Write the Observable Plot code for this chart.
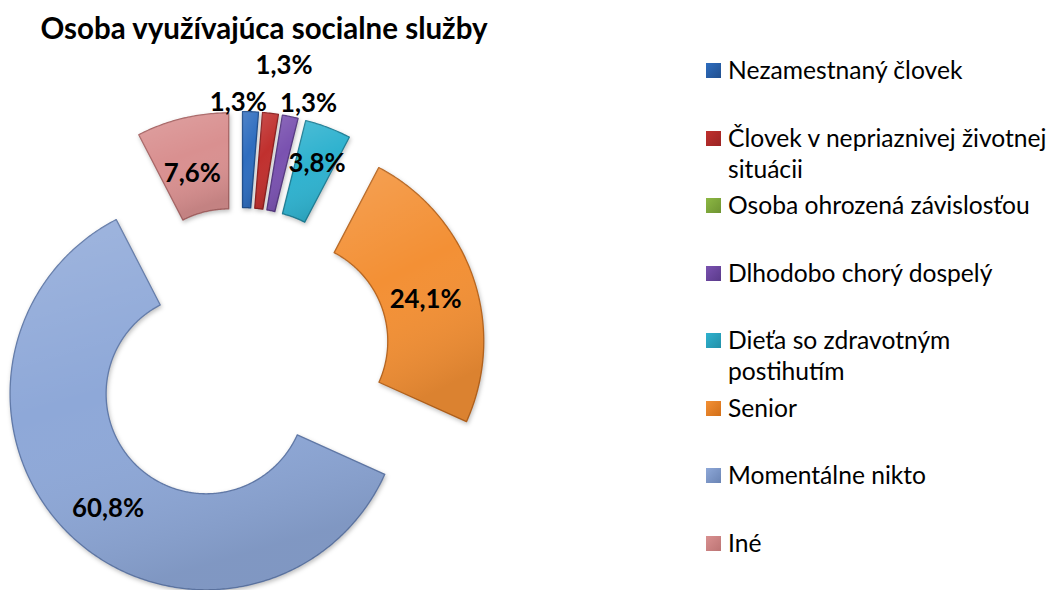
<!DOCTYPE html>
<html><head><meta charset="utf-8">
<script src="https://cdn.jsdelivr.net/npm/d3@7"></script>
<script src="https://cdn.jsdelivr.net/npm/@observablehq/plot@0.6"></script>
<style>
body{margin:0;background:#fff;}
#wrap{position:relative;width:1049px;height:590px;overflow:hidden;font-family:Lato,"Open Sans",sans-serif;color:#000;}
#chart{position:absolute;left:0;top:0;}
#title{position:absolute;left:0;width:528px;text-align:center;font-weight:bold;white-space:nowrap;}
.item{position:absolute;left:706px;}
.sw{position:absolute;left:0;width:15px;height:15px;}
.tx{position:absolute;left:22px;width:322px;}
#chart svg g.slices path{filter:drop-shadow(1px 2px 2px rgba(0,0,0,0.25));}
</style></head><body>
<div id="wrap"><div id="chart"></div><div id="title"></div><div id="legend"></div></div>
<script>
const title = "Osoba využívajúca socialne služby";
const categories = ["Nezamestnaný človek","Človek v nepriaznivej životnej situácii","Osoba ohrozená závislosťou","Dlhodobo chorý dospelý","Dieťa so zdravotným postihutím","Senior","Momentálne nikto","Iné"];
const values = [1.3, 1.3, 0, 1.3, 3.8, 24.1, 60.8, 7.6];
const fills = ["#2E6DBF","#C0302E","#8DB844","#7A52B0","#2FB2CF","#F39035","#8EA8D8","#D99090"];
const strokes = ["#1F4E8C","#8B2020","#5F7F2A","#553880","#1F7F96","#B8651E","#6079A8","#A86565"];
const swatchDark = ["#22508F","#9A2424","#6E9432","#5A3A8A","#2390A8","#D26F18","#6A84B4","#BC7474"];

// layout
const cx = 240, cy = 357, R = 196, r0 = 100, explode = 50;
const labelRadius = [205, 245, 0, 213, 158, 144, 151, 140];
const labelShift = [-3.5, 1.8, 0, 4.1, 1, 2.3, -3, -1.4];

function fit(text, weight, target){
  const c = document.createElement("canvas").getContext("2d");
  c.font = `${weight} 100px Lato`;
  return 100 * target / c.measureText(text).width;
}
const labelSize = fit("24,1%", "bold", 72);
const titleSize = fit(title, "bold", 448);
const legendSize = fit("Osoba ohrozená závislosťou", "normal", 302);

const rows = categories.map((c,i)=>({key:c, value:values[i], i}));
const arcs = d3.pie().sort(null).value(d=>d.value)(rows);
const pts = [];
const labs = [];
arcs.forEach(a=>{
  const i = a.data.i;
  if (a.data.value <= 0) return;
  const mid = (a.startAngle + a.endAngle)/2;
  const ox = cx + explode*Math.sin(mid), oy = cy - explode*Math.cos(mid);
  const n = Math.max(4, Math.ceil((a.endAngle - a.startAngle)/0.01));
  const outer = [], inner = [];
  for (let k=0;k<=n;k++){
    const t = a.startAngle + (a.endAngle - a.startAngle)*k/n;
    outer.push({key:a.data.key, fill:fills[i], stroke:strokes[i], x:ox+R*Math.sin(t), y:oy-R*Math.cos(t)});
    inner.push({key:a.data.key, fill:fills[i], stroke:strokes[i], x:ox+r0*Math.sin(t), y:oy-r0*Math.cos(t)});
  }
  pts.push(...outer, ...inner.reverse());
  const la = mid + labelShift[i]*Math.PI/180;
  labs.push({x: ox + labelRadius[i]*Math.sin(la), y: oy - labelRadius[i]*Math.cos(la),
    text: d3.format(".1f")(a.data.value).replace(".", ",") + "%"});
});

const plot = Plot.plot({
  width: 1049, height: 590, margin: 0,
  x: {domain:[0,1049], range:[0,1049], axis:null},
  y: {domain:[0,590], range:[0,590], axis:null},
  color: {type:"identity"},
  style: {fontFamily:"Lato", background:"transparent"},
  marks: [
    Plot.line(pts, {x:"x", y:"y", z:"key", fill:"fill", stroke:"stroke", strokeWidth:1.3, curve:"linear-closed", className:"slices"}),
    Plot.line(pts, {x:"x", y:"y", z:"key", fill:"url(#shade)", stroke:"none", curve:"linear-closed"}),
    Plot.text(labs, {x:"x", y:"y", text:"text", fontSize: labelSize, fontWeight:"bold", fill:"#000", fontFamily:"Lato"})
  ]
});
const ns = "http://www.w3.org/2000/svg";
const defs = document.createElementNS(ns, "defs");
defs.innerHTML = `<linearGradient id="shade" x1="0" y1="0" x2="0.3" y2="1">
  <stop offset="0" stop-color="#fff" stop-opacity="0.16"/>
  <stop offset="0.5" stop-color="#fff" stop-opacity="0"/>
  <stop offset="1" stop-color="#000" stop-opacity="0.1"/></linearGradient>`;
plot.insertBefore(defs, plot.firstChild);
document.getElementById("chart").appendChild(plot);

const t = document.getElementById("title");
t.textContent = title;
t.style.fontSize = titleSize + "px";
t.style.lineHeight = titleSize + "px";
t.style.top = (29 - titleSize*0.55) + "px";

const lg = document.getElementById("legend");
const lh = 30.7;
categories.forEach((c,i)=>{
  const it = document.createElement("div");
  it.className = "item";
  it.style.top = (70.7 + 67.5*i - lh/2) + "px";
  const sw = document.createElement("div");
  sw.className = "sw";
  sw.style.top = (lh/2 - 7.5) + "px";
  sw.style.background = `linear-gradient(135deg, ${fills[i]} 0%, ${swatchDark[i]} 100%)`;
  const tx = document.createElement("div");
  tx.className = "tx";
  tx.textContent = c;
  tx.style.fontSize = legendSize + "px";
  tx.style.lineHeight = lh + "px";
  it.appendChild(sw); it.appendChild(tx);
  lg.appendChild(it);
});
</script></body></html>
